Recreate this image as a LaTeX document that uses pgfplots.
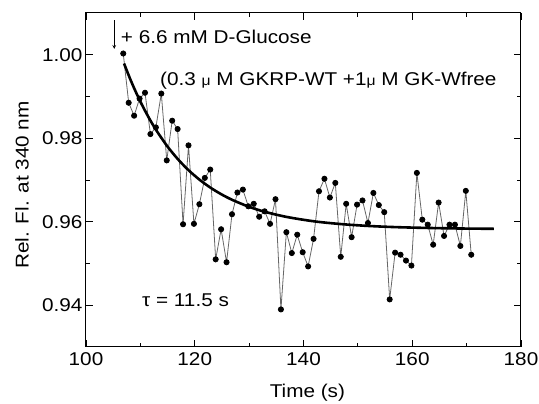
\documentclass[border=0pt]{standalone}
\usepackage{fontspec}
\setmainfont{Liberation Sans}[FakeStretch=1.12]
\usepackage{pgfplots}
\pgfplotsset{compat=1.18}

\pgfplotstableread{
t      f
106.85 1.0003
107.85 0.9885
108.85 0.9854
109.85 0.9895
110.85 0.9909
111.85 0.9810
112.85 0.9826
113.85 0.9907
114.85 0.9747
115.85 0.9842
116.85 0.9822
117.85 0.9594
118.85 0.9783
119.85 0.9595
120.85 0.9642
121.85 0.9705
122.85 0.9725
123.85 0.9510
124.85 0.9582
125.85 0.9503
126.85 0.9618
127.85 0.9670
128.85 0.9677
129.85 0.9637
130.85 0.9643
131.85 0.9612
132.85 0.9625
133.85 0.9595
134.85 0.9654
135.85 0.9390
136.85 0.9575
137.85 0.9525
138.85 0.9569
139.85 0.9527
140.85 0.9493
141.85 0.9559
142.85 0.9673
143.85 0.9703
144.85 0.9658
145.85 0.9693
146.85 0.9516
147.85 0.9643
148.85 0.9563
149.85 0.9641
150.85 0.9651
151.85 0.9597
152.85 0.9669
153.85 0.9640
154.85 0.9623
155.85 0.9414
156.85 0.9526
157.85 0.9521
158.85 0.9507
159.85 0.9495
160.85 0.9717
161.85 0.9605
162.85 0.9593
163.85 0.9545
164.85 0.9646
165.85 0.9566
166.85 0.9593
167.85 0.9593
168.85 0.9542
169.85 0.9674
170.85 0.9521
}\fluor

\pgfplotstableread{
t    fit
107  0.99790
108  0.99459
109  0.99156
110  0.98878
111  0.98624
112  0.98390
113  0.98176
115  0.97800
117  0.97484
119  0.97218
121  0.96995
123  0.96807
125  0.96650
127  0.96518
130  0.96357
133  0.96234
137  0.96113
142  0.96009
147  0.95943
152  0.95899
157  0.95871
163  0.95851
169  0.95838
175  0.95831
}\fitcurve

\begin{document}
\begin{tikzpicture}[font=\fontsize{18.5}{22}\selectfont]
\path[use as bounding box] (-86pt,-57pt) rectangle (453pt,347pt);
\begin{axis}[
    at={(0,0)}, anchor=south west,
    scale only axis,
    width=435pt, height=334pt,
    xmin=100, xmax=180,
    ymin=0.93, ymax=1.01,
    xtick={100,120,...,180},
    ytick={0.94,0.96,0.98,1.00},
    minor x tick num=1,
    minor y tick num=1,
    tick align=inside,
    major tick length=7pt,
    minor tick length=4pt,
    axis line style={line width=1pt},
    every tick/.style={line width=0.9pt, black},
    /pgf/number format/assume math mode=true,
    yticklabel style={/pgf/number format/.cd, fixed, fixed zerofill, precision=2},
    xticklabel style={yshift=-2pt},
    xlabel={Time (s)},
    ylabel={Rel. Fl. at 340 nm},
    xlabel style={at={(rel axis cs:0.509,-0.138)}, anchor=center},
    ylabel style={at={(rel axis cs:-0.147,0.485)}, anchor=center},
    clip=false,
]
\addplot[black!60, line width=0.8pt, mark=*, mark size=2.6pt,
         mark options={black, fill=black}] table[x=t, y=f] {\fluor};
\addplot[black, line width=2.6pt, smooth] table[x=t, y=fit] {\fitcurve};

\draw[-stealth, line width=0.7pt] (axis cs:105.2,1.0083) -- (axis cs:105.2,1.0014);
\node[anchor=base west, inner sep=0pt] at (axis cs:106.4,1.0027)
    {+ 6.6 mM D-Glucose};
\node[anchor=base west, inner sep=0pt] at (axis cs:113.6,0.99275)
    {(0.3 {\fontsize{14}{14}\selectfont μ} M GKRP-WT +1{\fontsize{14}{14}\selectfont μ} M GK-Wfree};
\node[anchor=base west, inner sep=0pt] at (axis cs:110.3,0.9396)
    {τ = 11.5 s};
\end{axis}
\end{tikzpicture}
\end{document}
